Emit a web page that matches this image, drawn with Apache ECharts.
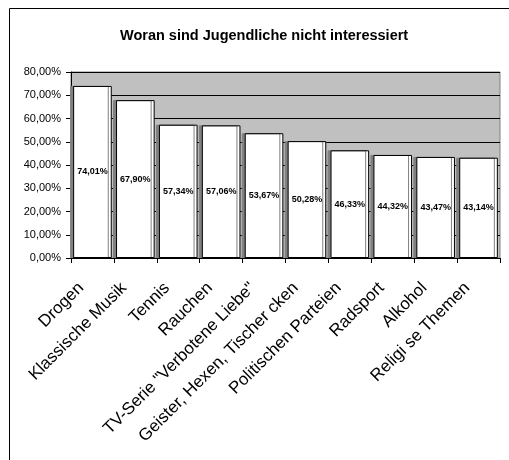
<!DOCTYPE html>
<html>
<head>
<meta charset="utf-8">
<script src="https://cdn.jsdelivr.net/npm/echarts@6/dist/echarts.min.js"></script>
<style>
  html, body { margin: 0; padding: 0; background: #fff; }
  #chart { width: 509px; height: 460px; }
</style>
</head>
<body>
<div id="chart"></div>
<script>
const categories = ['Drogen', 'Klassische Musik', 'Tennis', 'Rauchen', 'TV-Serie "Verbotene Liebe"',
  'Geister, Hexen, Tischer cken', 'Politischen Parteien', 'Radsport', 'Alkohol', 'Religi se Themen']
const values = [74.01, 67.90, 57.34, 57.06, 53.67, 50.28, 46.33, 44.32, 43.47, 43.14]
const yTicks = [0, 10, 20, 30, 40, 50, 60, 70, 80]

const pct = v => v.toFixed(2).replace('.', ',') + '%'

const myChart = echarts.init(document.getElementById('chart'))
myChart.setOption({
  animation: false,
  textStyle: { fontFamily: 'Liberation Sans, Arial, sans-serif' },
  title: {
    text: 'Woran sind Jugendliche nicht interessiert',
    left: 115,
    top: 23,
    textStyle: { fontSize: 14.5, fontWeight: 'bold', color: '#000' }
  },
  graphic: [{
    type: 'rect',
    shape: { x: 9.5, y: 8.5, width: 520, height: 480 },
    style: { fill: 'none', stroke: '#000', lineWidth: 1 },
    z: -10
  }],
  grid: {
    left: 71, right: 9, top: 72, bottom: 202,
    show: true, backgroundColor: '#c0c0c0', borderColor: '#808080', borderWidth: 1
  },
  xAxis: {
    type: 'category',
    data: categories,
    axisLine: { lineStyle: { color: '#000', width: 1 } },
    axisTick: { show: true, alignWithLabel: false, length: 5, lineStyle: { color: '#000' } },
    axisLabel: { rotate: 45, fontSize: 17, color: '#000', margin: 16, padding: [0, 16, 0, 0], interval: 0 }
  },
  yAxis: {
    type: 'value',
    min: yTicks[0],
    max: yTicks[yTicks.length - 1],
    interval: 10,
    axisLine: { show: true, lineStyle: { color: '#000' } },
    axisTick: { show: true, length: 5, lineStyle: { color: '#000' } },
    axisLabel: { fontSize: 11, color: '#000', formatter: v => pct(v), margin: 10 },
    splitLine: { show: true, lineStyle: { color: '#000', width: 1 } }
  },
  series: [{
    type: 'bar',
    data: values,
    barCategoryGap: '10%',
    itemStyle: {
      color: '#fff',
      borderColor: '#000',
      borderWidth: 1,
      shadowColor: '#808080',
      shadowOffsetX: -3,
      shadowBlur: 0
    },
    label: {
      show: true,
      position: 'inside',
      formatter: p => pct(p.value),
      fontSize: 9,
      fontWeight: 'bold',
      color: '#000'
    }
  }]
})
</script>
</body>
</html>
